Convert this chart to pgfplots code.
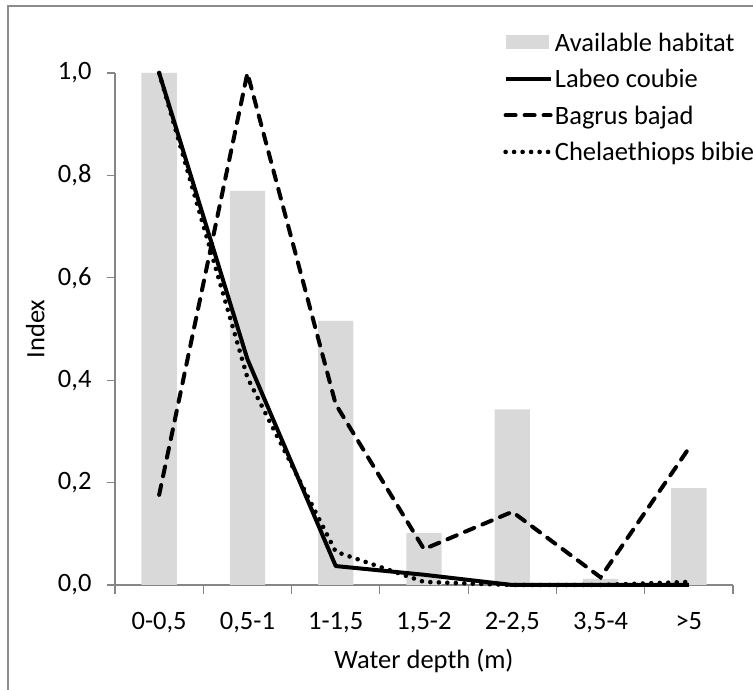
\documentclass[border=0pt]{standalone}
\usepackage{pgfplots}
\pgfplotsset{compat=1.18}
\usepackage{fontspec}
\setmainfont{Carlito}
\definecolor{barcol}{HTML}{D9D9D9}
\definecolor{axcol}{HTML}{868686}
\definecolor{framecol}{HTML}{8C8C8C}
\pgfplotsset{
  mylegline/.style={legend image code/.code={\draw[##1] (0pt,0pt) -- (45pt,0pt);}},
  mylegbar/.style={legend image code/.code={\fill[barcol] (0pt,-7pt) rectangle (43pt,7pt);}},
}
\begin{document}
\begin{tikzpicture}
\useasboundingbox (0pt,0pt) rectangle (753pt,690pt);
\draw[framecol, line width=1.3pt] (8pt,0pt) -- (8pt,684pt) -- (753pt,684pt);
\begin{axis}[
  at={(115pt,105pt)}, anchor=south west,
  scale only axis, width=618pt, height=512pt,
  xmin=-0.5, xmax=6.5, ymin=0, ymax=1,
  clip=false,
  axis x line=bottom, axis y line=left,
  axis line style={axcol, line width=1.2pt, -},
  every tick/.style={axcol, line width=1.2pt},
  tick align=outside,
  xtick={0,...,6},
  xticklabels={0-0{,}5, 0{,}5-1, 1-1{,}5, 1{,}5-2, 2-2{,}5, 3{,}5-4, >5},
  major x tick style={draw=none},
  minor xtick={-0.5,0.5,...,6.5},
  minor tick length=9pt,
  ytick={0,0.2,...,1.0},
  major tick length=8pt,
  yticklabel style={xshift=-12pt, /pgf/number format/fixed, /pgf/number format/fixed zerofill, /pgf/number format/precision=1, /pgf/number format/use comma, /pgf/number format/assume math mode=true},
  xticklabel style={yshift=-16pt},
  ticklabel style={font=\fontsize{26.5}{30}\selectfont, text=black},
  label style={font=\fontsize{26.5}{30}\selectfont},
  xlabel={Water depth (m)}, ylabel={Index},
  xlabel style={at={(axis description cs:0.5,-0.149)}, anchor=center},
  ylabel style={at={(axis description cs:-0.129,0.5)}, anchor=center},
  legend style={at={(axis description cs:0.628,1.084)}, anchor=north west, draw=none, fill=none,
    font=\fontsize{26.5}{30}\selectfont, row sep=12pt, inner sep=0pt,
    cells={anchor=west, inner ysep=0pt, inner xsep=7pt, text height=19pt, text depth=7pt}},
  legend cell align=left,
]
\addplot[ybar, bar width=0.4, fill=barcol, draw=none, mylegbar]
  coordinates {(0,1.0) (1,0.77) (2,0.516) (3,0.102) (4,0.343) (5,0.012) (6,0.189)};
\addlegendentry{Available habitat}
\addplot[black, line width=4pt, line join=round, mylegline]
  coordinates {(0,1.0) (1,0.441) (2,0.037) (3,0.02) (4,0.0) (5,0.0) (6,0.0)};
\addlegendentry{Labeo coubie}
\addplot[black, line width=4pt, line cap=round, dash pattern=on 10pt off 9pt, mylegline]
  coordinates {(0,0.176) (1,1.0) (2,0.353) (3,0.07) (4,0.143) (5,0.015) (6,0.267)};
\addlegendentry{Bagrus bajad}
\addplot[black, line width=4.6pt, line cap=round, dash pattern=on 0pt off 8.5pt, mylegline]
  coordinates {(0,1.0) (1,0.405) (2,0.065) (3,0.006) (4,0.0) (5,0.0) (6,0.006)};
\addlegendentry{Chelaethiops bibie}
\end{axis}
\end{tikzpicture}
\end{document}
